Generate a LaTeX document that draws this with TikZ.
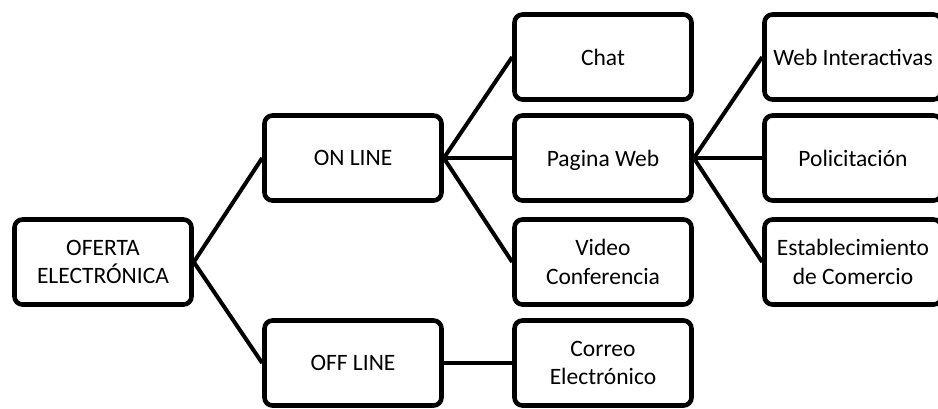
\documentclass[tikz,border=0pt]{standalone}
\usepackage{fontspec}
\setmainfont{Carlito}

\begin{document}
\begin{tikzpicture}[x=1pt,y=-1pt]
\tikzset{
  box/.style={draw, line width=4.6pt, rounded corners=8pt, fill=white,
    minimum width=177pt, minimum height=85pt, inner sep=2pt, align=center,
    text depth=0pt, font=\fontsize{23.5}{28.5}\selectfont},
  link/.style={line width=4pt}
}
\clip (0,0) rectangle (938,408);
\node[box] (oferta) at (103,262) {OFERTA\\ELECTRÓNICA};
\node[box] (online) at (353,158) {ON LINE};
\node[box] (offline) at (353,363) {OFF LINE};
\node[box] (chat) at (603,57) {Chat};
\node[box] (pagina) at (603,158) {Pagina Web};
\node[box] (video) at (603,262) {Video\\Conferencia};
\node[box] (correo) at (603,363) {Correo\\Electrónico};
\node[box] (webint) at (853,57) {Web Interactivas};
\node[box] (polic) at (853,158) {Policitación};
\node[box] (establ) at (853,262) {Establecimiento\\de Comercio};
\draw[link] (oferta.east) -- (online.west);
\draw[link] (oferta.east) -- (offline.west);
\draw[link] (online.east) -- (chat.west);
\draw[link] (online.east) -- (pagina.west);
\draw[link] (online.east) -- (video.west);
\draw[link] (offline.east) -- (correo.west);
\draw[link] (pagina.east) -- (webint.west);
\draw[link] (pagina.east) -- (polic.west);
\draw[link] (pagina.east) -- (establ.west);
\end{tikzpicture}
\end{document}
